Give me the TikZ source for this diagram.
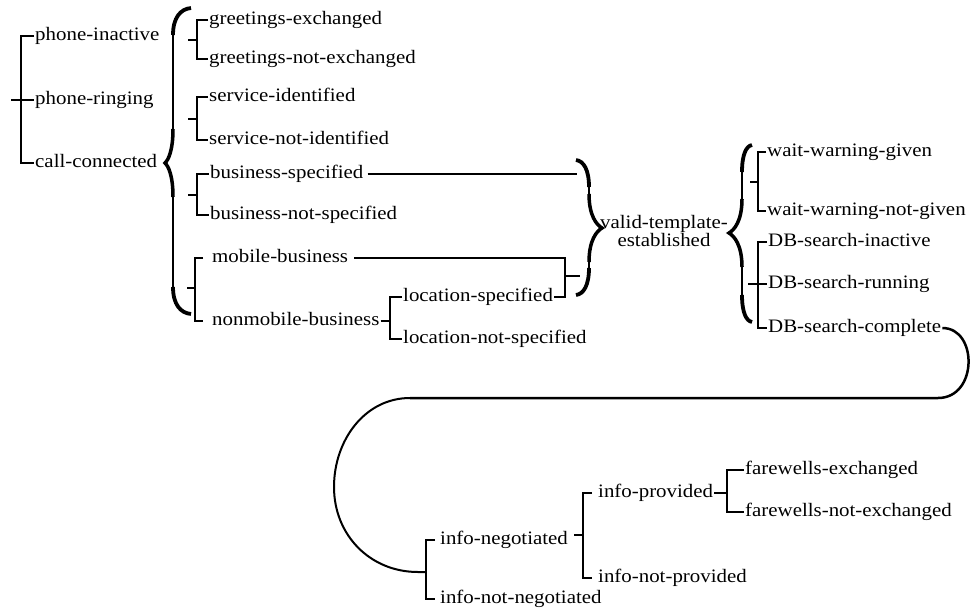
\documentclass[tikz,border=0pt]{standalone}
\usepackage{fontspec}
\setmainfont[FakeStretch=1.1]{Liberation Serif}
\newcommand{\bracedraw}[6]{%
 \draw[line width=3.8pt] (#1,#4) .. controls ({#2+0.4*(#1-#2)},{#4+1}) and (#2,{#4+10}) .. (#2,{#4+27});
 \draw[line width=2.5pt] (#2,{#4+26}) -- (#2,{#5-33});
 \draw[line width=3.5pt] (#2,{#5-34}) .. controls (#2,{#5-12}) and ({#2+0.6*(#3-#2)},{#5-3}) .. (#3,#5) .. controls ({#2+0.6*(#3-#2)},{#5+3}) and (#2,{#5+12}) .. (#2,{#5+34});
 \draw[line width=2.5pt] (#2,{#5+33}) -- (#2,{#6-26});
 \draw[line width=3.8pt] (#2,{#6-27}) .. controls (#2,{#6-10}) and ({#2+0.4*(#1-#2)},{#6-1}) .. (#1,#6);
}
\begin{document}
\begin{tikzpicture}[x=1pt,y=-1pt,
  lbl/.style={anchor=west, inner xsep=1pt, inner ysep=0pt, text height=13pt, text depth=4pt, font=\fontsize{19}{18}\selectfont},
  vte/.style={align=center, inner sep=0pt, font=\fontsize{19}{18}\selectfont},
  brk/.style={line width=2.9pt},
  lnk/.style={line width=2.5pt},
  arcl/.style={line width=2pt}]
\useasboundingbox (0,0) rectangle (971,611);

% first level
\node[lbl] (pi) at (34,36) {phone-inactive};
\node[lbl] (pr) at (34,100) {phone-ringing};
\node[lbl] (cc) at (34,163) {call-connected};
\coordinate (b0) at (21,100); \coordinate (b0s) at (11,100);
\draw[brk] (pi.west) -| (b0) |- (cc.west);
\draw[brk] (b0s) -- (pr.west);

% big brace
\bracedraw{191}{173}{165}{8}{163}{314}

% greetings
\node[lbl] (ge) at (208,20) {greetings-exchanged};
\node[lbl] (gne) at (208,59) {greetings-not-exchanged};
\coordinate (b1) at (197,40); \coordinate (b1s) at (188,40);
\draw[brk] (ge.west) -| (b1) |- (gne.west);
\draw[brk] (b1s) -- (b1);

% service
\node[lbl] (si) at (208,97) {service-identified};
\node[lbl] (sni) at (208,140) {service-not-identified};
\coordinate (b2) at (197,119); \coordinate (b2s) at (188,119);
\draw[brk] (si.west) -| (b2) |- (sni.west);
\draw[brk] (b2s) -- (b2);

% business
\node[lbl] (bs) at (209,174) {business-specified};
\node[lbl] (bns) at (209,215) {business-not-specified};
\coordinate (b3) at (197,195); \coordinate (b3s) at (188,195);
\draw[brk] (bs.west) -| (b3) |- (bns.west);
\draw[brk] (b3s) -- (b3);

% mobile
\node[lbl] (mb) at (211,258) {mobile-business};
\node[lbl] (nmb) at (211,321) {nonmobile-business};
\coordinate (b4) at (195,288); \coordinate (b4s) at (187,288);
\draw[brk] ([xshift=-8pt]mb.west) -| (b4) |- ([xshift=-8pt]nmb.west);
\draw[brk] (b4s) -- (b4);

% location
\node[lbl] (ls) at (402,297) {location-specified};
\node[lbl] (lns) at (402,339) {location-not-specified};
\coordinate (b5) at (390,318);
\draw[brk] (ls.west) -| (b5) |- (lns.west);
\draw[brk] (nmb.east) -- (b5 |- nmb.east);

% merge to valid template
\coordinate (m1) at (565,276); \coordinate (m1e) at (580,276);
\coordinate (bse) at (577,175);
\draw[lnk] ([xshift=5pt]mb.east) -| (m1) |- (ls.east);
\draw[brk] (m1) -- (m1e);
\draw[lnk] ([xshift=3pt]bs.east) -- (bse |- bs.east);

% closing brace
\bracedraw{576}{589}{602}{160}{228}{295}

\node[vte] (vt) at (664,231) {valid-template-\\established};

% opening brace
\bracedraw{752}{742}{729}{145}{233}{322}

% wait warning
\node[lbl] (wwg) at (766,152) {wait-warning-given};
\node[lbl] (wwng) at (766,211) {wait-warning-not-given};
\coordinate (b6) at (758,182); \coordinate (b6s) at (750,182);
\draw[brk] (wwg.west) -| (b6) |- (wwng.west);
\draw[brk] (b6s) -- (b6);

% DB search
\node[lbl] (dbi) at (767,242) {DB-search-inactive};
\node[lbl] (dbr) at (767,284) {DB-search-running};
\node[lbl] (dbc) at (767,328) {DB-search-complete};
\coordinate (b7) at (758,284); \coordinate (b7s) at (748,284);
\draw[brk] (dbi.west) -| (b7) |- (dbc.west);
\draw[brk] (b7s) -- (dbr.west);

% bottom section
\node[lbl] (ineg) at (439,540) {info-negotiated};
\node[lbl] (inneg) at (439,599) {info-not-negotiated};
\coordinate (b8) at (426,572);
\draw[brk] ([xshift=-4pt]ineg.west) -| (b8) |- ([xshift=-4pt]inneg.west);

\node[lbl] (ip) at (597,493) {info-provided};
\node[lbl] (inp) at (597,578) {info-not-provided};
\coordinate (b9) at (583,535);
\draw[brk] ([xshift=-5pt]ip.west) -| (b9) |- ([xshift=-5pt]inp.west);
\draw[brk] ([xshift=5pt]ineg.east |- b9) -- (b9);

\node[lbl] (fe) at (744,470) {farewells-exchanged};
\node[lbl] (fne) at (744,512) {farewells-not-exchanged};
\coordinate (b10) at (727,491);
\draw[brk] (fe.west) -| (b10) |- (fne.west);
\draw[brk] (ip.east) -- (b10 |- ip.east);

% long connector
\coordinate (r1) at (938,398); \coordinate (r2) at (410,398); \coordinate (r3) at (418,572);
\draw[lnk] (dbc.east) .. controls (978,328) and (978,398) .. (r1) -- (r2);
\draw[arcl] (r2) .. controls (365,398) and (334,440) .. (334,487) .. controls (334,535) and (370,572) .. (r3) -- (b8);
\end{tikzpicture}
\end{document}
